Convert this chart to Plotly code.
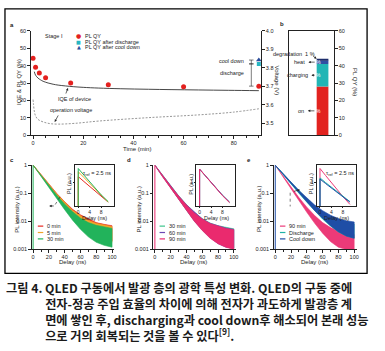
import plotly.graph_objects as go

W, H = 385, 351

# ---------------- data ----------------
# panel a
pl_time = [0, 1, 2.5, 5, 15, 30, 60, 90]
pl_qy = [44.3, 39.0, 35.7, 33.0, 30.0, 29.0, 27.8, 28.2]
discharge_time = [90]
discharge_qy = [41.0]
cooldown_time = [90]
cooldown_qy = [43.2]
iqe_time = [0.5, 1, 2, 3, 4, 6, 8, 10, 13, 16, 20, 26, 35, 46, 55, 66, 78, 90]
iqe_val = [36.5, 34.5, 32.8, 31.8, 31.0, 30.0, 29.3, 28.8, 28.3, 27.9, 27.5, 27.1, 26.7, 26.4, 26.2, 26.0, 25.8, 25.6]
volt_time = [0, 0.2, 0.5, 1, 2, 4, 6.6, 10, 16.5, 26.5, 46, 66, 80, 90]
volt_val = [3.628, 3.600, 3.565, 3.539, 3.520, 3.507, 3.498, 3.495, 3.499, 3.512, 3.530, 3.545, 3.560, 3.578]
a_xticks = [0, 20, 40, 60, 80]
a_volt_ticks = [3.5, 3.6, 3.7, 3.8, 3.9, 4.0]

# panel b
loss_labels = ["on", "charging", "heat", "degradation"]
loss_values = [28, 13, 2, 1]
loss_text = ["28 %", "13 %", "2 %", ""]

# panels c-e: transient PL (delay in ns), noise envelopes (low / high)
delay = [0, 5, 10, 20, 30, 40, 50, 60, 70, 80, 90, 100]
c_0min_lo = [1, 0.66, 0.43, 0.185, 0.078, 0.034, 0.015, 0.0075, 0.0042, 0.0028, 0.0022, 0.002]
c_0min_hi = [1, 0.70, 0.47, 0.215, 0.098, 0.050, 0.027, 0.017, 0.012, 0.009, 0.0078, 0.007]
c_5min_lo = [1, 0.65, 0.42, 0.18, 0.074, 0.032, 0.014, 0.0068, 0.0038, 0.0025, 0.002, 0.0018]
c_5min_hi = [1, 0.69, 0.46, 0.21, 0.094, 0.047, 0.025, 0.016, 0.011, 0.0085, 0.0072, 0.0065]
c_30min_lo = [1, 0.62, 0.39, 0.16, 0.064, 0.026, 0.011, 0.0052, 0.0028, 0.0018, 0.0014, 0.0012]
c_30min_hi = [1, 0.66, 0.43, 0.19, 0.085, 0.041, 0.022, 0.013, 0.009, 0.0072, 0.0062, 0.0056]

d_30min_lo = [1, 0.61, 0.38, 0.155, 0.062, 0.025, 0.0105, 0.005, 0.0027, 0.0017, 0.0013, 0.0011]
d_30min_hi = [1, 0.65, 0.42, 0.185, 0.082, 0.040, 0.021, 0.0125, 0.0087, 0.007, 0.006, 0.0054]
d_60min_lo = [1, 0.61, 0.38, 0.155, 0.061, 0.025, 0.0103, 0.0049, 0.0026, 0.0016, 0.0012, 0.0011]
d_60min_hi = [1, 0.65, 0.42, 0.185, 0.081, 0.039, 0.021, 0.0123, 0.0085, 0.0068, 0.0058, 0.0052]
d_90min_lo = [1, 0.60, 0.375, 0.152, 0.060, 0.024, 0.010, 0.0047, 0.0025, 0.0016, 0.0012, 0.001]
d_90min_hi = [1, 0.64, 0.415, 0.18, 0.080, 0.038, 0.020, 0.012, 0.0083, 0.0066, 0.0056, 0.005]

e_90min_lo = [1, 0.60, 0.36, 0.14, 0.054, 0.021, 0.0085, 0.0038, 0.0019, 0.0012, 0.001, 0.001]
e_90min_hi = [1, 0.64, 0.40, 0.165, 0.070, 0.032, 0.016, 0.009, 0.006, 0.0045, 0.0038, 0.0034]
e_dis_lo = [1, 0.68, 0.46, 0.215, 0.100, 0.048, 0.023, 0.012, 0.0068, 0.0042, 0.003, 0.0025]
e_dis_hi = [1, 0.72, 0.50, 0.245, 0.122, 0.064, 0.036, 0.022, 0.015, 0.011, 0.009, 0.008]
e_cool_lo = [1, 0.68, 0.47, 0.22, 0.103, 0.050, 0.024, 0.0125, 0.007, 0.0043, 0.003, 0.0025]
e_cool_hi = [1, 0.72, 0.51, 0.25, 0.126, 0.067, 0.038, 0.024, 0.0165, 0.0125, 0.0105, 0.0095]

main_xticks = [0, 20, 40, 60, 80, 100]
log_ticks = [0.001, 0.01, 0.1, 1]
log_ticktext = ["0.001", "0.01", "0.1", "1"]

# insets
inset_delay = [0, 0, 2, 4, 6, 8, 10.5]
ci_0min = [0.3, 1.29, 1.04, 0.84, 0.68, 0.55, 0.42]
ci_5min = [0.3, 1.60, 1.24, 0.96, 0.74, 0.57, 0.42]
ci_30min = [0.3, 1.85, 1.38, 1.03, 0.77, 0.58, 0.43]
di_30min = [0.3, 1.78, 1.34, 1.00, 0.76, 0.57, 0.42]
di_60min = [0.3, 1.80, 1.35, 1.00, 0.76, 0.57, 0.42]
di_90min = [0.3, 1.80, 1.34, 0.99, 0.75, 0.56, 0.41]
ei_90min = [0.3, 1.85, 1.35, 0.98, 0.72, 0.54, 0.38]
ei_dis = [0.3, 1.22, 0.99, 0.81, 0.66, 0.54, 0.43]
ei_cool = [0.3, 1.16, 0.95, 0.78, 0.65, 0.53, 0.42]
inset_xticks = [0, 4, 8]

# caption
cap_head = "그림 4. "
cap_lines = [
    "QLED 구동에서 발광 층의 광학 특성 변화. QLED의 구동 중에",
    "전자-정공 주입 효율의 차이에 의해 전자가 과도하게 발광층 계",
    "면에 쌓인 후, discharging과 cool down후 해소되어 본래 성능",
    "으로 거의 회복되는 것을 볼 수 있다<sup>[9]</sup>.",
]

# ---------------- helpers ----------------
def PX(x): return x / W
def PY(y): return 1 - y / H
def dom_x(a, b): return [a / W, b / W]
def dom_y(top, bot): return [1 - bot / H, 1 - top / H]

FONT = "Liberation Sans"
INK = "#222222"
def ax(**kw):
    d = dict(showgrid=False, zeroline=False, showline=True, linecolor=INK, linewidth=0.8,
             ticks="outside", ticklen=2.5, tickwidth=0.7, tickcolor=INK,
             tickfont=dict(family=FONT, size=5.5, color=INK), fixedrange=True)
    d.update(kw)
    return d

MINOR = lambda dt: dict(ticks="outside", dtick=dt, ticklen=1.5, tickwidth=0.6, tickcolor=INK, showgrid=False)

fig = go.Figure()

# ---- panel a ----
fig.add_trace(go.Scatter(x=iqe_time, y=iqe_val, mode="lines", line=dict(color="#333", width=0.9, shape="spline"),
                         xaxis="x", yaxis="y"))
fig.add_trace(go.Scatter(x=volt_time, y=volt_val, mode="lines",
                         line=dict(color="#8a8a8a", width=0.9, dash="2px,1.5px", shape="spline"),
                         xaxis="x", yaxis="y2"))
fig.add_trace(go.Scatter(x=pl_time, y=pl_qy, mode="markers", marker=dict(color="#e3211f", size=5, symbol="circle"),
                         xaxis="x", yaxis="y"))
fig.add_trace(go.Scatter(x=discharge_time, y=discharge_qy, mode="markers",
                         marker=dict(color="#27b6c2", size=4, symbol="square"), xaxis="x", yaxis="y"))
fig.add_trace(go.Scatter(x=cooldown_time, y=cooldown_qy, mode="markers",
                         marker=dict(color="#2b4c9b", size=5, symbol="triangle-up"), xaxis="x", yaxis="y"))

# ---- panel b ----
bar_colors = ["#e2231f", "#22b5b5", "#2f4fa3", "#1d2d6b"]
base = 0
bar_mid = []
for lab, v, c, t in zip(loss_labels, loss_values, bar_colors, loss_text):
    fig.add_trace(go.Bar(x=[0.48], y=[v], base=[base], width=[0.52], marker=dict(color=c, line=dict(width=0)),
                         xaxis="x3", yaxis="y3"))
    bar_mid.append(base + v / 2)
    base += v
bar_top = base

# ---- panels c, d, e ----
def band(xs, lo, hi, color, xa, ya):
    fig.add_trace(go.Scatter(x=xs + xs[::-1], y=hi + lo[::-1], mode="lines", fill="toself",
                             fillcolor=color, line=dict(color=color, width=0.6), xaxis=xa, yaxis=ya))

def rise(color, xa, ya):
    fig.add_trace(go.Scatter(x=[0, 0], y=[log_ticks[0], log_ticks[-1]], mode="lines",
                             line=dict(color=color, width=1), xaxis=xa, yaxis=ya))

C_RED, C_ORG, C_GRN = "#e8281f", "#f0a52a", "#22b35b"
D_GRN, D_PUR, D_PNK = "#3dc58c", "#6c48b3", "#ea2a6e"
E_PNK, E_TEAL, E_BLUE = "#ec3a78", "#1fb2a6", "#1f4ea6"

band(delay, c_0min_lo, c_0min_hi, C_RED, "x4", "y4")
band(delay, c_5min_lo, c_5min_hi, C_ORG, "x4", "y4")
band(delay, c_30min_lo, c_30min_hi, C_GRN, "x4", "y4")
rise(C_GRN, "x4", "y4")

band(delay, d_30min_lo, d_30min_hi, D_GRN, "x6", "y6")
band(delay, d_60min_lo, d_60min_hi, D_PUR, "x6", "y6")
band(delay, d_90min_lo, d_90min_hi, D_PNK, "x6", "y6")
rise(D_PNK, "x6", "y6")

band(delay, e_90min_lo, e_90min_hi, E_PNK, "x8", "y8")
band(delay, e_dis_lo, e_dis_hi, E_TEAL, "x8", "y8")
band(delay, e_cool_lo, e_cool_hi, E_BLUE, "x8", "y8")
rise(E_BLUE, "x8", "y8")

def iline(ys, color, xa, ya):
    fig.add_trace(go.Scatter(x=inset_delay, y=ys, mode="lines", line=dict(color=color, width=1), xaxis=xa, yaxis=ya))

iline(ci_0min, C_RED, "x5", "y5"); iline(ci_5min, C_ORG, "x5", "y5"); iline(ci_30min, C_GRN, "x5", "y5")
iline(di_30min, D_GRN, "x7", "y7"); iline(di_60min, D_PUR, "x7", "y7"); iline(di_90min, D_PNK, "x7", "y7")
iline(ei_90min, E_PNK, "x9", "y9"); iline(ei_dis, E_TEAL, "x9", "y9"); iline(ei_cool, E_BLUE, "x9", "y9")

# ---------------- layout / axes ----------------
layout = dict(width=W, height=H, margin=dict(l=0, r=0, t=0, b=0), autosize=False,
              paper_bgcolor="white", plot_bgcolor="white", showlegend=False, barmode="overlay")

layout["xaxis"] = ax(domain=dom_x(30.7, 262.7), range=[-1, 91], anchor="y", tickvals=a_xticks, minor=MINOR(5))
layout["yaxis"] = ax(domain=dom_y(28.3, 134.5), range=[0, 60], anchor="x", dtick=10)
layout["yaxis2"] = ax(overlaying="y", side="right", anchor="x", range=[3.435, 4.0], tickvals=a_volt_ticks,
                      tickformat=".1f")
layout["xaxis3"] = ax(domain=dom_x(290.7, 336), range=[-1, 1], anchor="y3", showticklabels=False, ticks="",
                      mirror=True)
layout["yaxis3"] = ax(domain=dom_y(28.3, 134.5), range=[0, 60], anchor="x3", side="right", dtick=10, mirror=True)

main_x = {"4": (31.7, 115), "6": (154.1, 237.4), "8": (275.1, 358.4)}
inset_x = {"5": (75.5, 114.5), "7": (197.5, 236.5), "9": (318.5, 357.5)}
for k, (a, b) in main_x.items():
    layout["xaxis" + k] = ax(domain=dom_x(a, b), range=[-2, 103], anchor="y" + k, tickvals=main_xticks,
                             minor=MINOR(10))
    layout["yaxis" + k] = ax(domain=dom_y(165, 250.7), type="log", range=[-3, 0], anchor="x" + k,
                             tickvals=log_ticks, ticktext=log_ticktext)
for k, (a, b) in inset_x.items():
    layout["xaxis" + k] = ax(domain=dom_x(a, b), range=[-1.1, 12.5], anchor="y" + k, tickvals=inset_xticks,
                             mirror=True, ticklen=1.5, tickfont=dict(family=FONT, size=5, color=INK))
    layout["yaxis" + k] = ax(domain=dom_y(165, 206.5), type="log", range=[-0.45, 0.33], anchor="x" + k,
                             tickvals=[1], ticktext=["1"], mirror=True, ticklen=1.5,
                             tickfont=dict(family=FONT, size=5, color=INK))

# ---------------- annotations ----------------
ann = []
def txt(x, y, s, size=5.5, xa="center", ya="middle", angle=0, color=INK, family=FONT, weight=None, yref="paper"):
    f = dict(family=family, size=size, color=color)
    if weight:
        f["weight"] = weight
    ann.append(dict(x=PX(x), y=(PY(y) if yref == "paper" else y), xref="paper", yref=yref, text=s,
                    showarrow=False, xanchor=xa, yanchor=ya, textangle=angle, font=f))

def arr(xt, yt, xs, ys):
    ann.append(dict(x=PX(xt), y=PY(yt), xref="paper", yref="paper",
                    ax=xs - xt, ay=ys, axref="pixel", ayref="pixel", text="", showarrow=True,
                    arrowhead=2, arrowsize=0.7, arrowwidth=0.7, arrowcolor=INK))

# panel letters
for x, y, s in [(11.7, 22.7, "a"), (283, 21.5, "b"), (11.7, 159.5, "c"), (129.3, 159.5, "d"), (250.5, 159.5, "e")]:
    txt(x, y, s, size=6, weight=700)

# panel a texts
txt(43, 33.3, "Stage I", xa="left")
txt(79, 33.3, "●", size=6, color="#e3211f", family="DejaVu Sans")
txt(79, 39.3, "■", size=5, color="#27b6c2", family="DejaVu Sans")
txt(79, 45.0, "▲", size=5, color="#2b4c9b", family="DejaVu Sans")
txt(83.3, 33.3, "PL QY", xa="left")
txt(83.3, 39.3, "PL QY after discharge", xa="left")
txt(83.3, 45.0, "PL QY after cool down", xa="left")
txt(75, 97.5, "IQE of device")
arr(68.3, 86.5, 65.7, 7)
txt(71.5, 109.3, "operation voltage")
arr(55, 121, 59.3, -8)
txt(247, 59.3, "cool down", xa="right")
txt(247, 71, "discharge", xa="right")
txt(18.5, 80, "IQE & PL QY (%)", size=6, angle=-90)
txt(278.5, 79, "Voltage (V)", size=6, angle=90)
txt(138, 148.7, "Time (min)", size=6)

# panel b texts
for i, t in enumerate(loss_text):
    if t:
        ann.append(dict(x=PX(324.2), y=bar_mid[i], xref="paper", yref="y3", text=t, showarrow=False,
                        font=dict(family=FONT, size=5, color="white")))
txt(307.5, bar_mid[0], loss_labels[0], xa="right", yref="y3")
txt(312, bar_mid[1], loss_labels[1], xa="right", yref="y3")
txt(308.5, bar_mid[2], loss_labels[2], xa="right", yref="y3")
txt(318.5, 52.3, "degradation  1 %", xa="right")
for i, (xt, xs) in enumerate([(309.5, 317.5), (313, 317.8), (310, 317.8)]):
    ann.append(dict(x=PX(xt), y=bar_mid[i], xref="paper", yref="y3", ax=xs - xt, ay=0, text="",
                    showarrow=True, arrowhead=2, arrowsize=0.7, arrowwidth=0.7, arrowcolor=INK))
ann.append(dict(x=PX(318.3), y=bar_top, xref="paper", yref="y3", ax=-5, ay=-3.5, text="", showarrow=True,
                arrowhead=2, arrowsize=0.7, arrowwidth=0.7, arrowcolor=INK))
txt(357.5, 80, "PL QY (%)", size=6, angle=90)

# panels c-e texts
offs = [0, 122.4, 243.4]
legends = [[("0 min", C_RED), ("5 min", C_ORG), ("30 min", C_GRN)],
           [("30 min", D_GRN), ("60 min", D_PUR), ("90 min", D_PNK)],
           [("90 min", E_PNK), ("Discharge", E_TEAL), ("Cool down", E_BLUE)]]
shapes = []
for o, leg in zip(offs, legends):
    txt(17.5 + o, 210, "PL intensity (a.u.)", size=6, angle=-90)
    txt(72.5 + o, 264, "Delay (ns)", size=6)
    txt(95 + o, 219, "Delay (ns)", size=5.5)
    txt(69.5 + o, 184, "PL (a.u.)", size=5.5, angle=-90)
    for j, (lab, col) in enumerate(leg):
        yy = 227 + j * 6.5
        shapes.append(dict(type="line", xref="paper", yref="paper", x0=PX(38 + o), x1=PX(43.5 + o),
                           y0=PY(yy), y1=PY(yy), line=dict(color=col, width=1.2)))
        txt(45.5 + o, yy, lab, xa="left")
for o in (0, 243.4):
    txt(98 + o, 173, "τ<sub>ref</sub> = 2.5 ns", size=5.5)
# small arrows in c and e
arr(49.5, 206.5, 55.5, 0)
shapes.append(dict(type="line", xref="paper", yref="paper", x0=PX(55.5), x1=PX(60.5), y0=PY(205), y1=PY(197),
                   line=dict(color=INK, width=0.6, dash="dot")))
shapes.append(dict(type="line", xref="paper", yref="paper", x0=PX(291.7), x1=PX(291.7), y0=PY(193), y1=PY(207),
                   line=dict(color=INK, width=0.6, dash="dot")))
arr(301.5, 190, 294, 2)

# brackets in panel a (data coords)
bx = 87
for y0, y1 in [(discharge_qy[0], cooldown_qy[0]), (pl_qy[-1], discharge_qy[0])]:
    shapes.append(dict(type="line", xref="x", yref="y", x0=bx, x1=bx, y0=y0, y1=y1, line=dict(color=INK, width=0.6)))
    for yy in (y0, y1):
        shapes.append(dict(type="line", xref="x", yref="y", x0=bx - 0.9, x1=bx + 0.9, y0=yy, y1=yy,
                           line=dict(color=INK, width=0.6)))

# outer frame
shapes.append(dict(type="rect", xref="paper", yref="paper", x0=PX(5), x1=PX(369), y0=PY(275), y1=PY(6),
                   line=dict(color="black", width=1.3)))

# caption: one text block, hanging indent made with an invisible copy of the heading
CAP = dict(family="Noto Sans CJK KR", size=12.2, color="#1a1a1a", weight=700)
ghost = '<span style="color:rgba(0,0,0,0)">' + cap_head + "</span>"
cap_text = cap_head + cap_lines[0] + "".join("<br>" + ghost + s for s in cap_lines[1:])
ann.append(dict(x=PX(4), y=PY(278.3), xref="paper", yref="paper", text=cap_text, showarrow=False,
                xanchor="left", yanchor="top", align="left", font=CAP))

layout["annotations"] = ann
layout["shapes"] = shapes
fig.update_layout(**layout)
fig.write_html("out.html")
